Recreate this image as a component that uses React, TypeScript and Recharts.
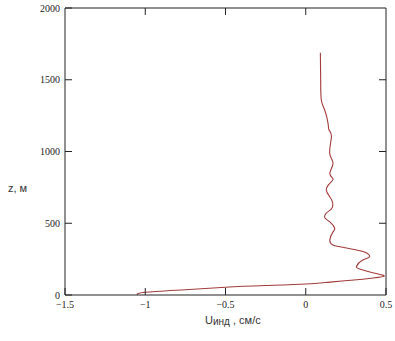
import React from 'react';
import { LineChart, Line, XAxis, YAxis, Label } from 'recharts';

const uValues = [
  -1.05, -1.0, -0.75, -0.5, -0.25, 0.0, 0.15, 0.3, 0.42, 0.49, 0.43, 0.34, 0.317, 0.35, 0.398, 0.37,
  0.315, 0.22, 0.168, 0.15, 0.17, 0.18, 0.15, 0.12, 0.128, 0.16, 0.168, 0.15, 0.128, 0.15, 0.17,
  0.15, 0.17, 0.149, 0.16, 0.145, 0.139, 0.118, 0.097, 0.093, 0.091,
];
const zValues = [
  0, 19, 37, 54, 66, 77, 90, 104, 118, 132, 152, 180, 200, 240, 267, 298,
  314, 335, 348, 383, 440, 467, 510, 536, 571, 600, 641, 685, 732, 778, 810,
  848, 918, 989, 1103, 1150, 1196, 1289, 1359, 1500, 1688,
];
const xTicks = [-1.5, -1, -0.5, 0, 0.5];
const xTickLabels = ['\u22121.5', '\u22121', '\u22120.5', '0', '0.5'];
const yTicks = [0, 500, 1000, 1500, 2000];
const yTickLabels = ['0', '500', '1000', '1500', '2000'];

const data = uValues.map((u, i) => ({ u, z: zValues[i] }));

const AXIS = '#222';
const SERIF = '"Liberation Serif", "DejaVu Serif", serif';
const SANS = '"Liberation Sans", Arial, sans-serif';

const BottomTick = (props: any) => {
  const { x, y, payload } = props;
  const idx = xTicks.indexOf(payload.value);
  return (
    <g>
      <line x1={x} y1={y} x2={x} y2={y - 7} stroke={AXIS} strokeWidth={1} />
      <text x={x} y={y + 13} textAnchor="middle" style={{ fontFamily: SERIF }} fontSize={10} fill="#222">
        {idx >= 0 ? xTickLabels[idx] : payload.value}
      </text>
    </g>
  );
};
const TopTick = (props: any) => {
  const { x, y } = props;
  return <line x1={x} y1={y} x2={x} y2={y + 7} stroke={AXIS} strokeWidth={1} />;
};
const LeftTick = (props: any) => {
  const { x, y, payload } = props;
  const idx = yTicks.indexOf(payload.value);
  return (
    <g>
      <line x1={x} y1={y} x2={x + 7} y2={y} stroke={AXIS} strokeWidth={1} />
      <text x={x - 5} y={y} dy="0.35em" textAnchor="end" style={{ fontFamily: SERIF }} fontSize={10} fill="#222">
        {idx >= 0 ? yTickLabels[idx] : payload.value}
      </text>
    </g>
  );
};
const RightTick = (props: any) => {
  const { x, y } = props;
  return <line x1={x} y1={y} x2={x - 7} y2={y} stroke={AXIS} strokeWidth={1} />;
};

export default function App() {
  return (
    <div style={{ position: 'absolute', left: 0, top: 0, width: 395, height: 341, background: '#fff' }}>
      <LineChart
        width={395}
        height={341}
        data={data}
        margin={{ top: 7, right: 8, bottom: 45, left: 64 }}
      >
        <XAxis
          xAxisId="b"
          type="number"
          dataKey="u"
          domain={[-1.5, 0.5]}
          ticks={xTicks}
          height={1}
          tickSize={0}
          tickMargin={0}
          tickLine={false}
          tick={BottomTick}
          stroke={AXIS}
          interval={0}
          allowDataOverflow
        >
          <Label
            content={() => (
              <text x={205} y={324} style={{ fontFamily: SANS }} fontSize={11} fill="#333">
                <tspan>U</tspan>
                <tspan fontSize={10} dy={1}>инд</tspan>
                <tspan dy={-1}> , см/с</tspan>
              </text>
            )}
          />
        </XAxis>
        <XAxis
          xAxisId="t"
          orientation="top"
          type="number"
          dataKey="u"
          domain={[-1.5, 0.5]}
          ticks={[-1, -0.5, 0]}
          height={1}
          tickSize={0}
          tickMargin={0}
          tickLine={false}
          tick={TopTick}
          stroke={AXIS}
          interval={0}
          allowDataOverflow
        />
        <YAxis
          yAxisId="l"
          type="number"
          domain={[0, 2000]}
          ticks={yTicks}
          width={1}
          tickSize={0}
          tickMargin={0}
          tickLine={false}
          tick={LeftTick}
          stroke={AXIS}
          interval={0}
          allowDataOverflow
        >
          <Label
            content={() => (
              <text x={8} y={192} style={{ fontFamily: SANS }} fontSize={11} fill="#333">
                z, м
              </text>
            )}
          />
        </YAxis>
        <YAxis
          yAxisId="r"
          orientation="right"
          type="number"
          domain={[0, 2000]}
          ticks={[500, 1000, 1500]}
          width={1}
          tickSize={0}
          tickMargin={0}
          tickLine={false}
          tick={RightTick}
          stroke={AXIS}
          interval={0}
          allowDataOverflow
        />
        <Line
          xAxisId="b"
          yAxisId="l"
          type="natural"
          dataKey="z"
          stroke="#a33b3b"
          strokeWidth={1.1}
          dot={false}
          isAnimationActive={false}
        />
      </LineChart>
    </div>
  );
}
